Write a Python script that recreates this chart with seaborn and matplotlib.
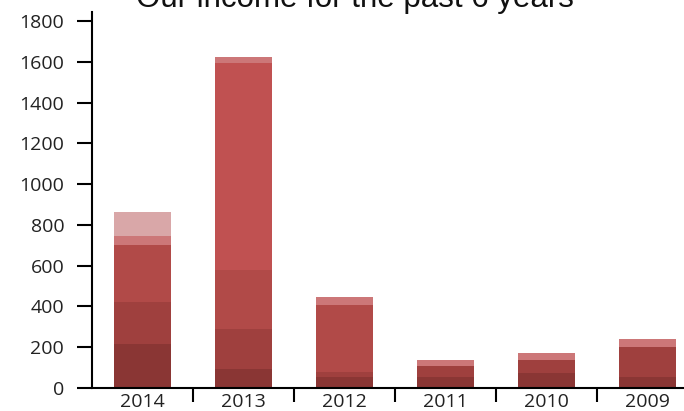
import numpy as np
import pandas as pd
import matplotlib
matplotlib.use("Agg")
import matplotlib.pyplot as plt
import seaborn as sns

# Data (stack segments, bottom -> top)
years = ["2014", "2013", "2012", "2011", "2010", "2009"]
layer1 = [216, 93, 54, 54, 74, 54]
layer2 = [206, 196, 24, 54, 63, 147]
layer3 = [278, 289, 329, 0, 0, 0]
layer4 = [0, 1015, 0, 0, 0, 0]
layer5 = [45, 30, 39, 29, 35, 39]
layer6 = [117, 0, 0, 0, 0, 0]
yticks = [0, 200, 400, 600, 800, 1000, 1200, 1400, 1600, 1800]

layers = [layer1, layer2, layer3, layer4, layer5, layer6]
colors = ["#8a3634", "#9f403e", "#b14a48", "#c05151", "#cc7778", "#d9a7a8"]

sns.set_style("white")
plt.rcParams['font.family'] = ['Open Sans', 'DejaVu Sans']

fig = plt.figure(figsize=(6.84, 4.11), dpi=100)
ax = fig.add_axes([92 / 684, 23 / 411, 606 / 684, 376 / 411])

bottom = np.zeros(len(years))
for vals, col in zip(layers, colors):
    df = pd.DataFrame({"year": years, "value": vals})
    sns.barplot(data=df, x="year", y="value", order=years, color=col,
                saturation=1, width=0.56, errorbar=None, bottom=bottom,
                linewidth=0, ax=ax)
    bottom = bottom + np.array(vals)

ax.set_xlim(-0.5, 5.5)
ax.set_ylim(0, 1844)
ax.set_xlabel("")
ax.set_ylabel("")
ax.set_yticks(yticks)
ax.set_yticklabels([str(t) for t in yticks])

ax.set_xticks(range(len(years)))
ax.set_xticklabels(years)
ax.set_xticks([i + 0.5 for i in range(len(years) - 1)], minor=True)
ax.tick_params(axis="x", which="major", bottom=True, length=0, pad=3.5,
               labelsize=14, colors="#222222")
ax.tick_params(axis="x", which="minor", bottom=True, length=10, width=1.5,
               direction="out", color="black")
ax.tick_params(axis="y", left=True, length=11, width=1.5, direction="out", pad=9,
               labelsize=14, labelcolor="#222222", color="black")

for side in ["top", "right"]:
    ax.spines[side].set_visible(False)
for side in ["left", "bottom"]:
    ax.spines[side].set_linewidth(1.5)
    ax.spines[side].set_color("black")

fig.text(0.519, 1 - 6.5 / 411, "Our income for the past 6 years", ha="center",
         va="baseline", fontsize=22.5, family=["Liberation Sans", "DejaVu Sans"],
         color="#111111")

fig.savefig("out.png", dpi=100)
